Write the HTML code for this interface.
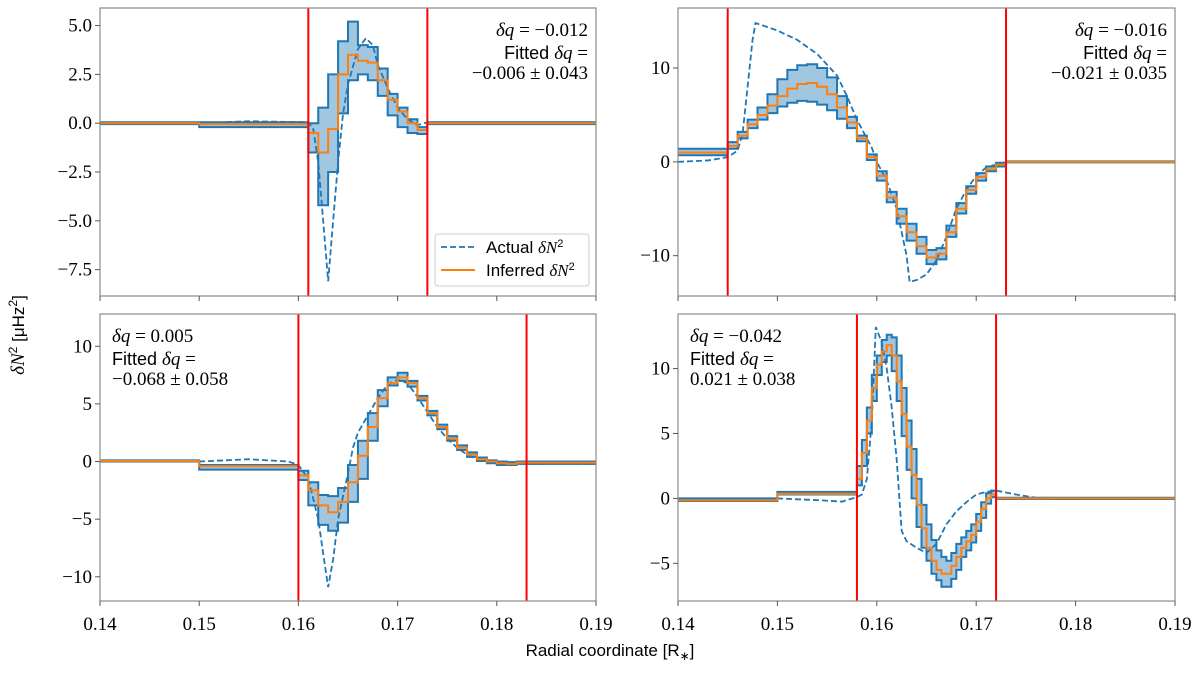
<!DOCTYPE html>
<html><head><meta charset="utf-8">
<style>
body{margin:0;background:#fff;}
svg{display:block;}
.tk{font-family:"Liberation Serif",serif;font-size:19px;fill:#000;}
.ann{font-family:"Liberation Serif",serif;font-size:19px;fill:#000;}
.sans{font-family:"Liberation Sans",sans-serif;font-size:18px;}
.lab{font-family:"Liberation Sans",sans-serif;font-size:17px;fill:#000;}
</style></head>
<body>
<svg id="chart" width="1200" height="675" viewBox="0 0 1200 675" xmlns="http://www.w3.org/2000/svg">
<text class="lab" x="610" y="656" text-anchor="middle">Radial coordinate [R<tspan font-size="12" dy="4">∗</tspan><tspan dy="-4">]</tspan></text>
<text class="lab" transform="translate(24,335) rotate(-90)" text-anchor="middle"><tspan font-family="Liberation Serif" font-style="italic" font-size="19">δN</tspan><tspan font-size="12" dy="-7">2</tspan><tspan dy="7"> [μHz</tspan><tspan font-size="12" dy="-7">2</tspan><tspan dy="7">]</tspan></text>
</svg>
<script>
// ---------- data ----------
const xTicks = [0.14,0.15,0.16,0.17,0.18,0.19];
const xTickLabels = ["0.14","0.15","0.16","0.17","0.18","0.19"];

// Top-left
const tlRed = [0.161,0.173];
const tlPre = [0.14,0.15];
const tlBinW = 0.001;
const tlMid = [0,-0.05,-0.5,-1.5,-0.3,2.5,3.5,3.2,3.1,2.2,1.2,0.6,0.0,-0.35,0];
const tlHi  = [0.05,0.05,0.0,0.8,2.5,4.2,5.2,4.0,3.9,2.8,1.5,0.8,0.2,-0.2,0.05];
const tlLo  = [-0.05,-0.2,-1.5,-4.2,-2.5,0.5,2.2,2.5,2.2,1.4,0.4,-0.2,-0.5,-0.55,-0.05];
const tlActX = [0.14,0.15,0.155,0.161,0.1615,0.162,0.1625,0.163,0.1635,0.164,0.1645,0.165,0.166,0.1668,0.1675,0.168,0.169,0.170,0.171,0.172,0.173,0.19];
const tlActY = [0,0,0.1,0.05,-0.3,-2,-5,-8.1,-5,-2,0.5,2,3.8,4.35,4.0,3,1.8,0.8,0.2,-0.1,0.05,0.05];
const tlYTicks = [-7.5,-5,-2.5,0,2.5,5];
const tlYLabels = ["−7.5","−5.0","−2.5","0.0","2.5","5.0"];

// Top-right
const trRed = [0.145,0.173];
const trPre = [0.14];
const trBinW = 0.001;
const trMid = [1.0,1.7,2.8,4.0,5.0,6.0,7.0,7.8,8.3,8.4,8.0,7.2,5.8,4.2,2.5,0.5,-1.5,-3.8,-5.8,-7.5,-9.0,-10.2,-9.8,-7.5,-5.0,-3.0,-1.6,-0.8,-0.3,0];
const trHi  = [1.4,2.1,3.2,4.5,5.8,7.2,8.8,9.8,10.3,10.4,10.0,9.0,7.0,4.8,2.8,0.8,-1.0,-3.2,-5.0,-6.6,-8.0,-9.4,-9.2,-6.8,-4.4,-2.6,-1.2,-0.5,-0.1,0.05];
const trLo  = [0.7,1.4,2.5,3.6,4.5,5.2,5.9,6.3,6.5,6.4,6.1,5.5,4.6,3.6,2.2,0.2,-2.0,-4.3,-6.6,-8.4,-9.8,-10.9,-10.4,-8.0,-5.5,-3.4,-2.0,-1.0,-0.5,-0.05];
const trActX = [0.14,0.143,0.145,0.146,0.1465,0.147,0.1475,0.1478,0.150,0.152,0.154,0.156,0.157,0.158,0.159,0.1595,0.160,0.161,0.162,0.163,0.1633,0.164,0.165,0.166,0.167,0.168,0.169,0.170,0.171,0.173,0.19];
const trActY = [0,0.15,0.5,1.2,3,8,13,14.8,14.0,13.0,11.5,9.2,7,4.5,2.5,1.5,0,-2,-5,-10,-12.8,-12.6,-12.0,-10.5,-8,-5,-3,-1.5,-0.6,0,0.05];
const trYTicks = [-10,0,10];
const trYLabels = ["−10","0","10"];

// Bottom-left
const blRed = [0.160,0.183];
const blPre = [0.14,0.15];
const blBinW = 0.001;
const blMid = [0.05,-0.4,-1.2,-2.5,-3.8,-4.4,-3.5,-1.8,0.5,3.0,5.5,6.8,7.3,6.8,5.5,4.2,3.0,2.0,1.2,0.6,0.2,0.0,-0.15,-0.2,-0.1,-0.1];
const blHi  = [0.1,-0.3,-0.8,-1.8,-2.9,-3.0,-2.3,-0.3,1.8,4.2,6.2,7.3,7.7,7.0,5.7,4.4,3.2,2.2,1.4,0.8,0.35,0.1,0,-0.05,0,0];
const blLo  = [0.0,-0.7,-1.6,-3.8,-5.5,-6.0,-5.3,-3.5,-1.5,1.8,4.8,6.6,7.0,6.5,5.3,4.0,2.8,1.8,1.0,0.4,0.05,-0.15,-0.3,-0.3,-0.2,-0.2];
const blActX = [0.14,0.15,0.155,0.159,0.160,0.161,0.162,0.1625,0.163,0.1635,0.164,0.165,0.1655,0.166,0.167,0.168,0.169,0.170,0.171,0.172,0.173,0.174,0.175,0.176,0.177,0.178,0.180,0.182,0.19];
const blActY = [0,0,0.2,0,-0.3,-1.5,-5,-8,-10.9,-8.5,-5,-1,1.2,2.5,4,5.5,6.7,7.1,6.8,5.6,4.3,3.0,2.0,1.2,0.6,0.2,-0.1,-0.2,-0.2];
const blYTicks = [-10,-5,0,5,10];
const blYLabels = ["−10","−5","0","5","10"];

// Bottom-right
const brRed = [0.158,0.172];
const brPre = [0.14,0.15];
const brBinW = 0.0005;
const brMid = [-0.15,0.35,1.5,3.5,6.0,8.5,10.3,11.3,11.8,11.0,9.0,6.5,4.0,1.8,-0.5,-2.3,-3.8,-4.8,-5.5,-5.8,-5.8,-5.2,-4.5,-3.8,-3.3,-2.8,-1.8,-0.8,0.0,0.3,0];
const brHi  = [0,0.5,2.5,4.5,7.0,9.5,11.0,12.2,12.6,12.4,11.0,8.5,6.0,3.8,1.5,-0.5,-2.0,-3.2,-4.0,-4.5,-4.8,-4.2,-3.5,-3.0,-2.5,-2.0,-1.2,-0.3,0.4,0.6,0.05];
const brLo  = [-0.2,0.3,1.0,2.5,5.0,7.5,9.5,10.5,11.0,9.8,7.5,4.8,2.2,0.0,-2.2,-3.8,-4.8,-5.8,-6.3,-6.8,-6.8,-6.2,-5.5,-4.5,-4.0,-3.4,-2.5,-1.5,-0.4,0.1,-0.05];
const brActX = [0.14,0.15,0.1545,0.1565,0.158,0.1585,0.159,0.1595,0.1599,0.1605,0.161,0.1615,0.162,0.1625,0.163,0.164,0.165,0.166,0.167,0.168,0.169,0.170,0.171,0.172,0.174,0.176,0.19];
const brActY = [0,0,-0.15,-0.25,0.1,0.3,1.5,6,13.2,12,10,7,3,-2.5,-3.3,-3.8,-4.2,-3.5,-2.0,-1.0,-0.3,0.3,0.5,0.6,0.3,0.05,0.0];
const brYTicks = [-5,0,5,10];
const brYLabels = ["−5","0","5","10"];

// ---------- rendering ----------
const NS = "http://www.w3.org/2000/svg";
const svg = document.getElementById('chart');
function mk(tag, attrs, parent){
  const e = document.createElementNS(NS, tag);
  for (const k in attrs) e.setAttribute(k, attrs[k]);
  (parent||svg).appendChild(e);
  return e;
}
const BLUE="#1f77b4", ORANGE="#ff7f0e";

function drawPanel(p){
  const g = mk('g', {});
  
  
  const X = v => p.L + (v-0.14)/(0.05)*(p.R-p.L);
  const Y = v => p.T + (p.ymax - v)/(p.ymax - p.ymin)*(p.B-p.T);
  const cid = 'clip-'+p.name;
  const cp = mk('clipPath', {id:cid}, g);
  mk('rect', {x:p.L, y:p.T, width:p.R-p.L, height:p.B-p.T}, cp);
  const inner = mk('g', {'clip-path':'url(#'+cid+')'}, g);

  const edges = p.pre.slice();
  const nb = p.mid.length - p.pre.length - 1;
  for (let i=0;i<=nb;i++) edges.push(p.red[0] + i*p.binW);
  edges[edges.length-1] = p.red[1];
  edges.push(0.19);
  const stepPath = vals => {
    let d = 'M'+X(edges[0])+','+Y(vals[0]);
    for (let i=0;i<vals.length;i++){
      if (i>0) d += 'V'+Y(vals[i]);
      d += 'H'+X(edges[i+1]);
    }
    return d;
  };
  let fd = stepPath(p.hi);
  for (let i=p.lo.length-1;i>=0;i--){
    fd += 'V'+Y(p.lo[i])+'H'+X(edges[i]);
  }
  fd += 'Z';
  const band = mk('path', {d:fd, fill:BLUE, 'fill-opacity':0.42, stroke:'none'}, inner);
  
  
  const hi = mk('path', {d:stepPath(p.hi), fill:'none', stroke:BLUE, 'stroke-width':2}, inner);
  
  
  const lo = mk('path', {d:stepPath(p.lo), fill:'none', stroke:BLUE, 'stroke-width':2}, inner);
  
  
  let ad = '';
  p.ax.forEach((v,i)=>{ ad += (i?'L':'M')+X(v)+','+Y(p.ay[i]); });
  const act = mk('path', {d:ad, fill:'none', stroke:BLUE, 'stroke-width':1.8, 'stroke-dasharray':'6,3'}, inner);
  
  
  const inf = mk('path', {d:stepPath(p.mid), fill:'none', stroke:ORANGE, 'stroke-width':2}, inner);
  
  
  p.red.forEach(r=>{
    const l = mk('line', {x1:X(r), x2:X(r), y1:p.T, y2:p.B, stroke:'#ff0000', 'stroke-width':2}, g);
    
    
  });
  const fr = mk('rect', {x:p.L, y:p.T, width:p.R-p.L, height:p.B-p.T, fill:'none', stroke:'#8c8c8c', 'stroke-width':1.2}, g);
  
  
  xTicks.forEach((t,i)=>{
    const tk = mk('line', {x1:X(t), x2:X(t), y1:p.B, y2:p.B+5, stroke:'#555', 'stroke-width':1}, g);
    
    
    if (p.xlabels){
      const tx = mk('text', {x:X(t), y:p.B+29, 'text-anchor':'middle', class:'tk'}, g);
      tx.textContent = xTickLabels[i];
      
      
    }
  });
  p.yt.forEach((t,i)=>{
    const tk = mk('line', {x1:p.L-5, x2:p.L, y1:Y(t), y2:Y(t), stroke:'#555', 'stroke-width':1}, g);
    
    
    const tx = mk('text', {x:p.L-8, y:Y(t)+6, 'text-anchor':'end', class:'tk'}, g);
    tx.textContent = p.yl[i];
    
    
  });
  const anchor = p.annRight ? 'end' : 'start';
  const ax = p.annRight ? p.R-8 : p.L+12;
  const a = mk('text', {class:'ann', 'text-anchor':anchor}, g);
  
  
  a.innerHTML = '<tspan x="'+ax+'" y="'+(p.T+28)+'"><tspan font-style="italic">δq</tspan> = '+p.dq+'</tspan>'+
    '<tspan x="'+ax+'" y="'+(p.T+51)+'"><tspan class="sans">Fitted </tspan><tspan font-style="italic">δq</tspan> =</tspan>'+
    '<tspan x="'+ax+'" y="'+(p.T+71)+'">'+p.fit+'</tspan>';
  return {X,Y,g};
}

drawPanel({name:'panel-top-left', L:100, R:596, T:8, B:296, ymin:-8.85, ymax:5.9, red:tlRed, pre:tlPre, binW:tlBinW, mid:tlMid, hi:tlHi, lo:tlLo, ax:tlActX, ay:tlActY, yt:tlYTicks, yl:tlYLabels, xlabels:false, annRight:true, dq:'−0.012', fit:'−0.006 ± 0.043'});
drawPanel({name:'panel-top-right', L:678, R:1175, T:8, B:296, ymin:-14.3, ymax:16.4, red:trRed, pre:trPre, binW:trBinW, mid:trMid, hi:trHi, lo:trLo, ax:trActX, ay:trActY, yt:trYTicks, yl:trYLabels, xlabels:false, annRight:true, dq:'−0.016', fit:'−0.021 ± 0.035'});
drawPanel({name:'panel-bottom-left', L:100, R:596, T:314, B:601, ymin:-12.1, ymax:12.8, red:blRed, pre:blPre, binW:blBinW, mid:blMid, hi:blHi, lo:blLo, ax:blActX, ay:blActY, yt:blYTicks, yl:blYLabels, xlabels:true, annRight:false, dq:'0.005', fit:'−0.068 ± 0.058'});
drawPanel({name:'panel-bottom-right', L:678, R:1175, T:314, B:601, ymin:-7.9, ymax:14.2, red:brRed, pre:brPre, binW:brBinW, mid:brMid, hi:brHi, lo:brLo, ax:brActX, ay:brActY, yt:brYTicks, yl:brYLabels, xlabels:true, annRight:false, dq:'−0.042', fit:'0.021 ± 0.038'});

const lg = mk('g', {});


mk('rect', {x:435, y:234, width:154, height:52, rx:3, fill:'#fff', 'fill-opacity':0.85, stroke:'#ccc', 'stroke-width':1}, lg);
const l1 = mk('line', {x1:441, x2:475, y1:247, y2:247, stroke:BLUE, 'stroke-width':1.8, 'stroke-dasharray':'6,3'}, lg);


const l2 = mk('line', {x1:441, x2:475, y1:270, y2:270, stroke:ORANGE, 'stroke-width':2}, lg);


const t1 = mk('text', {x:486, y:253, class:'lab', 'font-size':'15'}, lg);


t1.innerHTML = 'Actual <tspan font-family="Liberation Serif" font-style="italic" font-size="17">δN</tspan><tspan font-size="11" dy="-6">2</tspan>';
const t2 = mk('text', {x:486, y:276, class:'lab', 'font-size':'15'}, lg);


t2.innerHTML = 'Inferred <tspan font-family="Liberation Serif" font-style="italic" font-size="17">δN</tspan><tspan font-size="11" dy="-6">2</tspan>';
</script>
</body></html>
